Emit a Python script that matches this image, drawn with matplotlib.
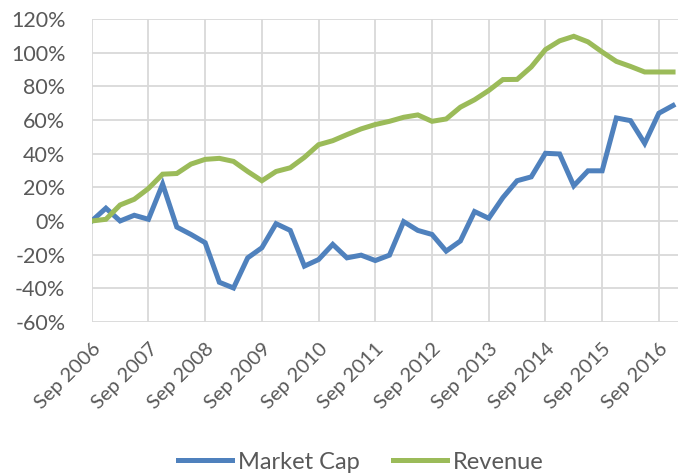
import matplotlib
matplotlib.use('Agg')
import matplotlib.pyplot as plt
from matplotlib.ticker import FuncFormatter

# quarterly values, Sep 2006 .. Dec 2016 (percent change since Sep 2006)
market_cap = [0, 7.6, 0, 3.4, 1, 21.9, -3.6, -8, -12.9, -36.4,
              -39.8, -21.9, -15.9, -1.6, -5.6, -26.8, -22.9, -13.9, -21.9, -20.3,
              -23.5, -20.3, -0.4, -5.6, -8, -17.9, -11.9, 5.6, 1.6, 13.9,
              23.9, 26.2, 40.2, 39.8, 20.9, 29.8, 29.8, 61.2, 59.6, 46.1,
              64, 68.6]
revenue = [0, 1, 9.5, 12.9, 19.3, 27.8, 28.2, 33.8, 36.6, 37.2,
           35.4, 29.4, 23.9, 29.4, 31.6, 37.8, 45.3, 47.7, 51.3, 54.7,
           57.3, 59.2, 61.6, 63, 59.2, 60.6, 67.6, 72, 77.5, 84,
           84.1, 91.5, 101.8, 107, 109.7, 106.4, 100.4, 94.8, 91.8, 88.5,
           88.5, 88.5]
tick_labels = ['Sep 2006', 'Sep 2007', 'Sep 2008', 'Sep 2009', 'Sep 2010', 'Sep 2011',
               'Sep 2012', 'Sep 2013', 'Sep 2014', 'Sep 2015', 'Sep 2016']

plt.rcParams['font.family'] = ['Lato', 'DejaVu Sans']
text_color = '#595959'

fig = plt.figure(figsize=(6.78, 4.74), dpi=100)
ax = fig.add_axes([0.1353, 0.3207, 0.8647, 0.6393])

x = list(range(len(market_cap)))
ax.plot(x, market_cap, color='#4F81BD', lw=3.6, label='Market Cap', solid_joinstyle='miter')
ax.plot(x, revenue, color='#9BBB59', lw=3.6, label='Revenue', solid_joinstyle='miter')

ax.set_xlim(0, 41.35)
ax.set_ylim(-60, 120)
ax.set_yticks(range(-60, 121, 20))
ax.yaxis.set_major_formatter(FuncFormatter(lambda v, p: f'{v:.0f}%'))
ax.set_xticks(range(0, 41, 4))
ax.set_xticklabels(tick_labels, rotation=45, ha='right', va='top', rotation_mode='anchor')

ax.grid(True, color='#D9D9D9', lw=1.3)
ax.set_axisbelow(True)
for s in ax.spines.values():
    s.set_visible(False)
ax.tick_params(length=0, colors=text_color)
ax.tick_params(axis='y', labelsize=15.5, pad=19)
ax.tick_params(axis='x', labelsize=14.5, pad=13)

fig.legend(loc='center', bbox_to_anchor=(0.532, 0.025), ncol=2, frameon=False,
           fontsize=17, labelcolor=text_color, handlelength=2.3, handletextpad=0.25,
           columnspacing=1.4)

fig.savefig('out.png', dpi=100)
